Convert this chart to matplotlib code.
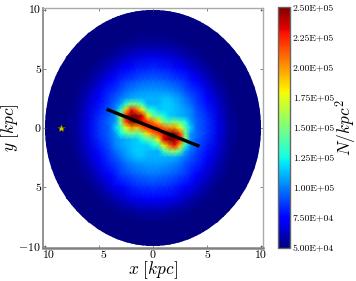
# -*- coding: utf-8 -*-
import numpy as np
import matplotlib
matplotlib.use("Agg")
import matplotlib.pyplot as plt
from matplotlib.patches import Circle
from matplotlib.transforms import ScaledTranslation

plt.rcParams['mathtext.fontset'] = 'cm'
plt.rcParams['font.family'] = 'cmr10'
plt.rcParams['axes.unicode_minus'] = False

#-------------------------------------------------------------------------------
# DATA: surface density, in units of 1e4 N/kpc^2
x_nodes = [-10.5, -8, -7, -6, -5, -4, -3.5, -3, -2.5, -2, -1.5, -1, -0.5, 0, 0.5,
           1, 1.5, 2, 2.5, 3, 3.5, 4, 5, 6, 7, 8, 10.5]
y_nodes = [10.5, 8, 7, 6, 5, 4, 3, 2.5, 2, 1.5, 1, 0.5, 0, -0.5, -1, -1.5, -2, -2.5,
           -3, -4, -5, -6, -7, -8, -10.5]
density = [
 [5,5,5,5,5, 5,5,5,5,5,5,5,5,5,5,5,5,5,5,5,5,5, 5,5,5,5,5],
 [5,5,5,5,5, 5,5,5,5,5,5.1,5.1,5.1,5.1,5.1,5.1,5.1,5,5,5,5,5, 5,5,5,5,5],
 [5,5,5,5,5, 5.1,5.1,5.2,5.3,5.4,5.5,5.6,5.6,5.6,5.6,5.6,5.5,5.4,5.3,5.2,5.1,5.1, 5,5,5,5,5],
 [5,5,5,5,5.1, 5.4,5.7,5.9,6.2,6.4,6.6,6.7,6.8,6.8,6.8,6.7,6.6,6.4,6.2,5.9,5.7,5.4, 5.1,5,5,5,5],
 [5,5,5,5.1,5.5, 6.2,6.6,7,7.4,7.7,8,8.1,8.2,8.3,8.2,8.1,8,7.7,7.4,7,6.6,6.2, 5.5,5.1,5,5,5],
 [5,5,5.1,5.4,6.2, 7.2,7.8,8.3,8.6,8.9,9.1,9.3,9.4,9.5,9.4,9.3,9.1,8.9,8.6,8.3,7.8,7.2, 6.2,5.4,5.1,5,5],
 [5,5,5.2,5.9,7, 8.3,8.7,9.2,9.8,10.2,10.4,10.6,10.7,10.7,10.7,10.6,10.4,10.2,9.8,9.2,8.7,8.3, 7,5.9,5.2,5,5],
 [5,5,5.3,6.2,7.3, 8.6,9.2,9.8,10.4,10.8,11,11,11,11,11,11.3,11.3,10.8,10.4,9.8,9.2,8.6, 7.3,6.2,5.3,5,5],
 [5,5,5.4,6.4,7.8, 8.9,9.6,10.7,13,15,14.5,13,11,11,11,11.5,11.5,11.2,10.7,10.2,9.6,8.9, 7.8,6.4,5.4,5,5],
 [5,5,5.4,6.6,8, 9.2,10.1,13,19,23,21,18,13.5,12.5,11.5,11.5,11.5,11.3,11,10.6,10.1,9.2, 8,6.6,5.4,5,5],
 [5,5.1,5.5,6.7,8.3, 9.3,10.3,15,23,25,25,23.5,18,14.5,14,12.5,11.5,11.3,11,10.7,10.2,9.3, 8.3,6.7,5.5,5.1,5],
 [5,5.1,5.6,6.8,8.5, 9.7,10.4,15,22,25,25,23,22,20.5,18.5,15,14,15,14,12.5,10.4,9.6, 8.5,6.8,5.6,5.1,5],
 [5,5.1,5.6,6.8,8.5, 9.5,11.5,13.5,17.5,20,19,21,22.5,23,22.5,21,20,20,17.5,14,11.5,9.5, 8.5,6.8,5.6,5.1,5],
 [5,5.1,5.6,6.8,8.5, 9.6,10.4,12.5,14,15,14,15.5,18.5,20.5,22,23,25,25,22,15,10.4,9.7, 8.5,6.8,5.6,5.1,5],
 [5,5.1,5.5,6.7,8.3, 9.3,10.2,10.7,11,11.3,11.5,12.5,14,14.5,18,23.5,25,25,23,15,10.3,9.3, 8.3,6.7,5.5,5.1,5],
 [5,5,5.4,6.6,8, 9.2,10.1,10.6,11,11.3,11.5,11.5,11.5,12.5,13.5,18,21,23,19,13,10.1,9.2, 8,6.6,5.4,5,5],
 [5,5,5.4,6.4,7.8, 8.9,9.6,10.2,10.7,11.2,11.5,11.5,11.2,11,11,13.5,15,16,14,10.7,9.6,8.9, 7.8,6.4,5.4,5,5],
 [5,5,5.3,6.2,7.3, 8.6,9.2,9.8,10.4,10.8,11.3,11.3,11,11,11,11,11,11,10.4,9.8,9.2,8.6, 7.3,6.2,5.3,5,5],
 [5,5,5.2,5.9,7, 8.3,8.7,9.2,9.8,10.2,10.4,10.6,10.7,10.7,10.7,10.6,10.4,10.2,9.8,9.2,8.7,8.3, 7,5.9,5.2,5,5],
 [5,5,5.1,5.5,6.4, 7.4,8,8.6,8.9,9.2,9.4,9.6,9.7,9.8,9.7,9.6,9.4,9.2,8.9,8.6,8,7.4, 6.4,5.5,5.1,5,5],
 [5,5,5,5.1,5.7, 6.5,7,7.4,7.8,8.1,8.3,8.5,8.5,8.6,8.5,8.5,8.3,8.1,7.8,7.4,7,6.5, 5.7,5.1,5,5,5],
 [5,5,5,5,5.2, 5.6,5.9,6.2,6.5,6.8,7,7.1,7.2,7.2,7.2,7.1,7,6.8,6.5,6.2,5.9,5.6, 5.2,5,5,5,5],
 [5,5,5,5,5, 5.1,5.2,5.3,5.4,5.5,5.7,5.8,5.8,5.8,5.8,5.8,5.7,5.5,5.4,5.3,5.2,5.1, 5,5,5,5,5],
 [5,5,5,5,5, 5,5,5,5,5,5.1,5.1,5.1,5.1,5.1,5.1,5.1,5,5,5,5,5, 5,5,5,5,5],
 [5,5,5,5,5, 5,5,5,5,5,5,5,5,5,5,5,5,5,5,5,5,5, 5,5,5,5,5],
]
bar_x = [-4.3, 4.3]
bar_y = [1.57, -1.57]
sun_x = [-8.5]
sun_y = [0.0]
x_ticks = [-10, -5, 0, 5, 10]
x_labels = ['10', '5', '0', '5', '10']
y_ticks = [10, 5, 0, -5, -10]
y_labels = ['10', '5', '0', '5', r'$-10$']
cbar_ticks = [5.0e4, 7.5e4, 1.0e5, 1.25e5, 1.5e5, 1.75e5, 2.0e5, 2.25e5, 2.5e5]
cbar_labels = ['5.00E+04', '7.50E+04', '1.00E+05', '1.25E+05', '1.50E+05',
               '1.75E+05', '2.00E+05', '2.25E+05', '2.50E+05']

#-------------------------------------------------------------------------------
# AND PLOT !
W, H = 356., 281.
fig = plt.figure(figsize=(W / 100, H / 100), dpi=100)
ax = fig.add_axes([43 / W, 1 - 248 / H, 220 / W, 240.5 / H])
cax = fig.add_axes([278 / W, 1 - 247.5 / H, 12 / W, 240.5 / H])

mesh = ax.pcolormesh(x_nodes, y_nodes, np.array(density) * 1e4, cmap='jet',
                     vmin=5e4, vmax=2.5e5, shading='gouraud')
mesh.set_clip_path(Circle((0, 0), 10, transform=ax.transData))
ax.plot(bar_x, bar_y, color='k', lw=2.4, solid_capstyle='butt')
ax.plot(sun_x, sun_y, marker='*', color='#c8c800', mec='#444400', mew=0.4, ms=6, ls='none')

ax.set_xlim(-10.19, 10.19)
ax.set_ylim(-10.19, 10.19)
ax.set_xticks(x_ticks)
ax.set_xticklabels(x_labels, fontsize=8.5)
ax.set_yticks(y_ticks)
ax.set_yticklabels(y_labels, fontsize=8.5)
ax.tick_params(direction='in', length=2, width=0.5, color='#555555', pad=1.5,
               top=True, right=True)
# the two negative x labels sit off their ticks in the original
for lab in ax.get_xticklabels()[:2]:
    lab.set_transform(lab.get_transform() + ScaledTranslation(4 / 100, 0, fig.dpi_scale_trans))
ax.spines['left'].set(color='#808080', lw=1.2)
ax.spines['bottom'].set(color='#808080', lw=1.8)
ax.spines['top'].set(color='#aaaaaa', lw=1.0)
ax.spines['right'].set(color='#aaaaaa', lw=1.0)
ax.set_xlabel(r'$x\ [kpc]$', fontsize=12.5, labelpad=0)
ax.set_ylabel(r'$y\ [kpc]$', fontsize=12.5)
ax.yaxis.set_label_coords(-0.098, 0.5)

cb = fig.colorbar(mesh, cax=cax, ticks=cbar_ticks)
cb.ax.set_yticklabels(cbar_labels, fontsize=7)
cb.ax.tick_params(length=0, pad=2)
cb.outline.set(edgecolor='#666666', lw=1.0)
cb.set_label(r'$N/kpc^2$', fontsize=12.5)
cb.ax.yaxis.set_label_coords(4.65, 0.5)

fig.savefig('out.png', dpi=100)
